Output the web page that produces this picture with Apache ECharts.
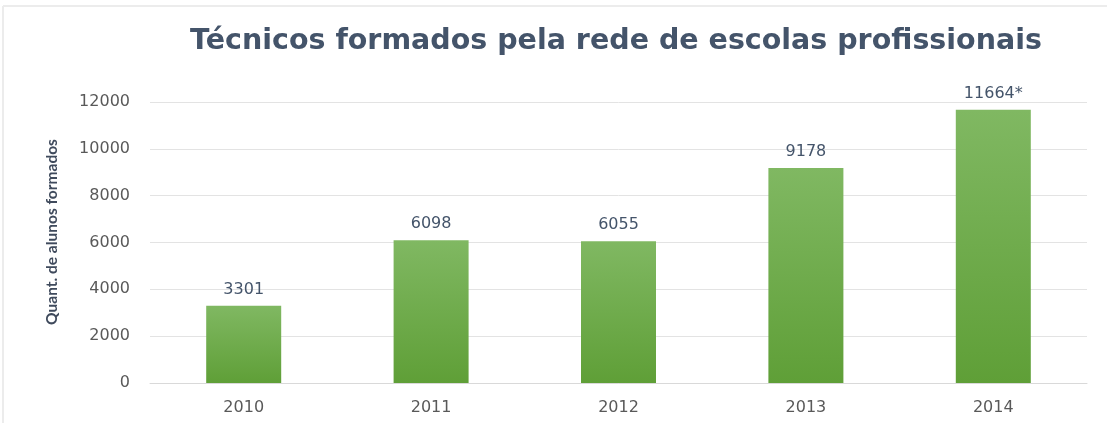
<!DOCTYPE html>
<html><head><meta charset="utf-8">
<script src="https://cdn.jsdelivr.net/npm/echarts@6/dist/echarts.min.js"></script>
<style>html,body{margin:0;padding:0;background:#fff}#c{width:1107px;height:423px}</style>
</head><body><div id="c"></div>
<script>
const categories = ['2010','2011','2012','2013','2014'];
const values = [3301, 6098, 6055, 9178, 11664];
const labels = ['3301','6098','6055','9178','11664*'];
const yTicks = [0,2000,4000,6000,8000,10000,12000];

const chart = echarts.init(document.getElementById('c'));
chart.setOption({
  animation:false,
  backgroundColor:'#fff',
  graphic:[
    {type:'line',shape:{x1:3,y1:6,x2:1107,y2:6},style:{stroke:'#ececec',lineWidth:2}},
    {type:'line',shape:{x1:3,y1:6,x2:3,y2:423},style:{stroke:'#ececec',lineWidth:2}},
    {type:'text',x:52,y:232,rotation:Math.PI/2,
      style:{text:'Quant. de alunos formados',fill:'#3f4a5c',font:'bold 15.5px Lato',align:'center',verticalAlign:'middle'}}
  ],
  title:{text:'Técnicos formados pela rede de escolas profissionais',left:611,top:22,textAlign:'center',
    textStyle:{fontFamily:'DejaVu Sans',fontWeight:'bold',fontSize:28.5,color:'#44546a'}},
  grid:{left:150,right:20,top:102,bottom:40},
  xAxis:{type:'category',data:categories,
    axisLine:{lineStyle:{color:'#d9d9d9'}},axisTick:{show:false},
    axisLabel:{fontFamily:'DejaVu Sans',fontSize:16,color:'#595959',margin:17}},
  yAxis:{type:'value',min:yTicks[0],max:yTicks[yTicks.length-1],interval:2000,
    axisLine:{show:false},axisTick:{show:false},
    splitLine:{lineStyle:{color:'#e3e3e3'}},
    axisLabel:{fontFamily:'DejaVu Sans',fontSize:16,color:'#595959',margin:20,formatter:v=>String(v)}},
  series:[{type:'bar',data:values,barWidth:75,
    itemStyle:{color:new echarts.graphic.LinearGradient(0,0,0,1,[{offset:0,color:'#80b862'},{offset:1,color:'#5f9f37'}])},
    label:{show:true,position:'top',distance:8,fontFamily:'DejaVu Sans',fontSize:16,color:'#44546a',
      formatter:p=>labels[p.dataIndex]}}]
});
</script></body></html>
